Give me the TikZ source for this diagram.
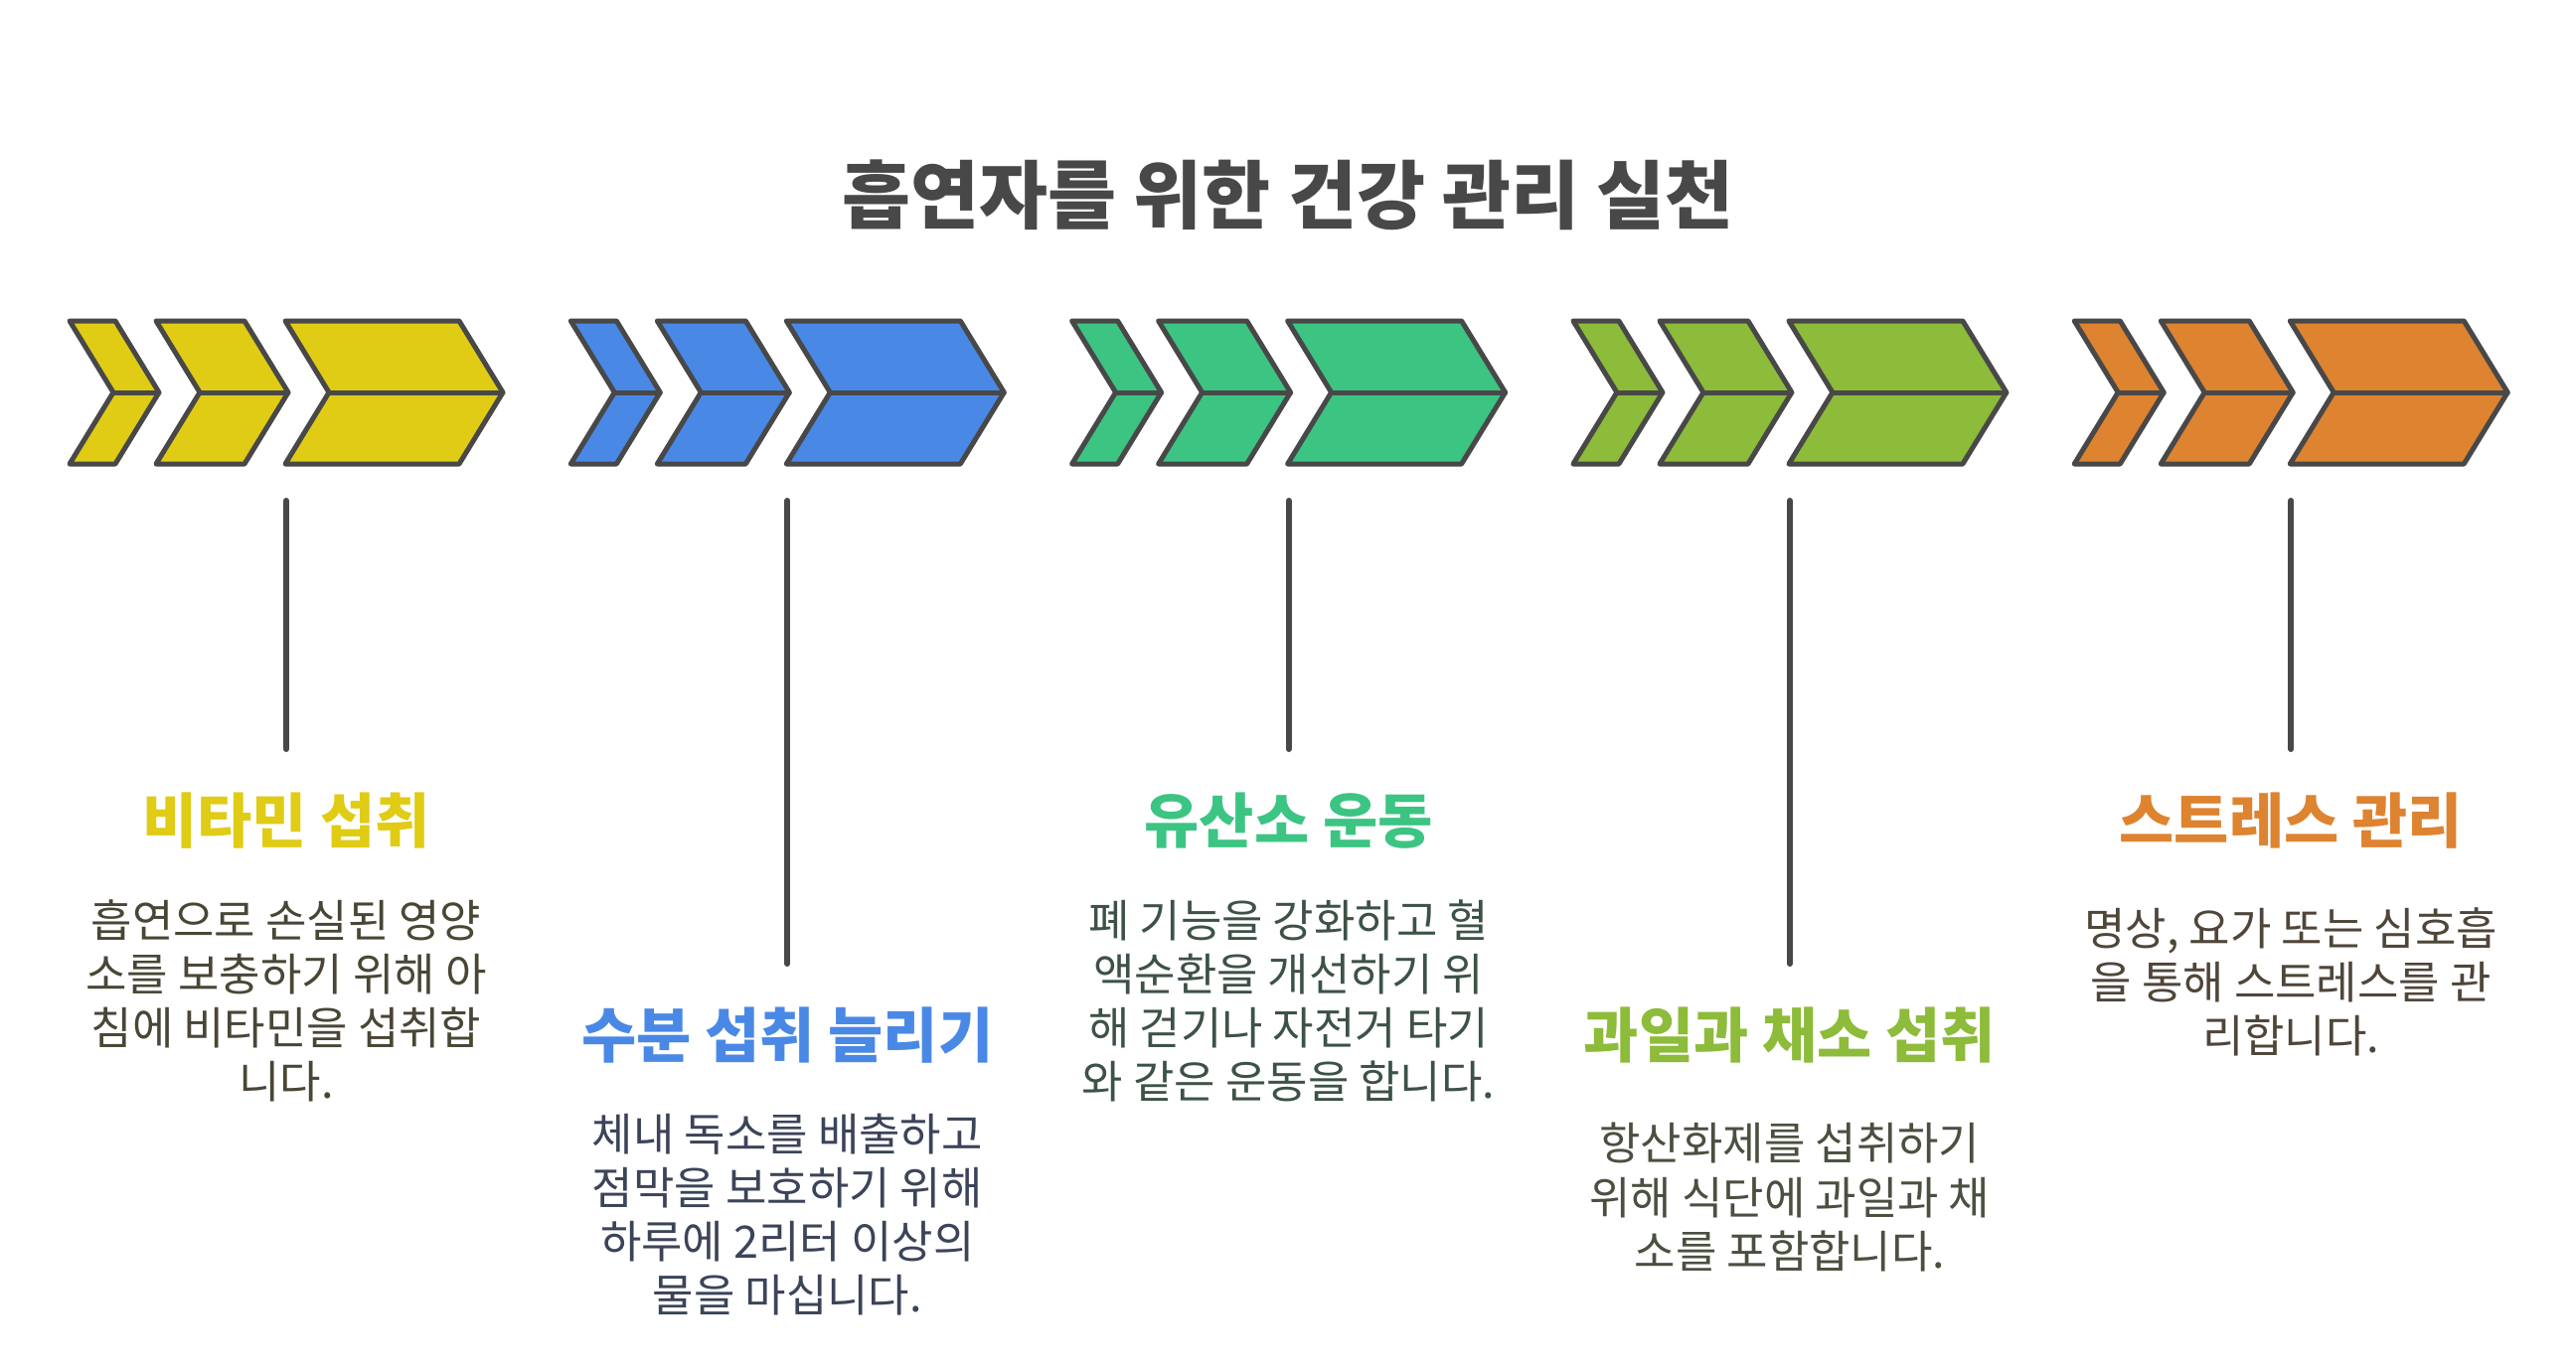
\documentclass[tikz,border=0pt]{standalone}
\usepackage{fontspec}
\newfontfamily\kr{Noto Sans CJK KR}
\definecolor{cy}{HTML}{E0CB15}
\definecolor{cb}{HTML}{4A88E6}
\definecolor{cg}{HTML}{3CC483}
\definecolor{cl}{HTML}{8DBB3A}
\definecolor{co}{HTML}{DE8330}
\definecolor{outl}{HTML}{484848}
\definecolor{ty}{HTML}{4A4636}
\definecolor{tb}{HTML}{3B4458}
\definecolor{tg}{HTML}{3D5246}
\definecolor{tl}{HTML}{4A5040}
\definecolor{to}{HTML}{4F4539}
\tikzset{
  chevron/.style={draw=outl, line width=5pt, line join=round, line cap=round},
  stem/.style={draw=outl, line width=6pt, line cap=round},
  maintitle/.style={font=\kr\bfseries\fontsize{75}{90}\selectfont, text=outl, inner sep=0pt},
  sectitle/.style={font=\kr\bfseries\fontsize{60}{72}\selectfont, inner sep=0pt},
  desc/.style={font=\kr\fontsize{45}{54}\selectfont, align=center, inner sep=0pt},
}
\begin{document}
\begin{tikzpicture}[x=1pt,y=-1pt]
\useasboundingbox (0,0) rectangle (2592,1378);
\fill[white] (0,0) rectangle (2592,1378);

\node[maintitle] (title) at (1296,196) {흡연자를 위한 건강 관리 실천};

\foreach \k/\c in {0/cy,1/cb,2/cg,3/cl,4/co}{
  \foreach \L/\R in {0/46,87/176,217/392}{
    \pgfmathsetmacro{\xa}{70+504.3*\k+\L}
    \pgfmathsetmacro{\xb}{70+504.3*\k+\R}
    \filldraw[chevron, fill=\c] (\xa,323) -- (\xb,323) -- (\xb+44,395) -- (\xb,467) -- (\xa,467) -- (\xa+44,395) -- cycle;
    \draw[chevron] (\xa+44,395) -- (\xb+44,395);
  }
}

\coordinate (t0) at (288,504);    \coordinate (b0) at (288,754);
\coordinate (t1) at (792.3,504);  \coordinate (b1) at (792.3,970);
\coordinate (t2) at (1296.6,504); \coordinate (b2) at (1296.6,754);
\coordinate (t3) at (1800.9,504); \coordinate (b3) at (1800.9,970);
\coordinate (t4) at (2305.2,504); \coordinate (b4) at (2305.2,754);
\foreach \k in {0,...,4}{ \draw[stem] (t\k) -- (b\k); }

\node[sectitle, text=cy] (h0) at (288,826) {비타민 섭취};
\node[desc, text=ty] (d0) at (288,1007) {흡연으로 손실된 영양\\소를 보충하기 위해 아\\침에 비타민을 섭취합\\니다.};

\node[sectitle, text=cb] (h1) at (792.3,1042) {수분 섭취 늘리기};
\node[desc, text=tb] (d1) at (792.3,1223) {체내 독소를 배출하고\\점막을 보호하기 위해\\하루에 2리터 이상의\\물을 마십니다.};

\node[sectitle, text=cg] (h2) at (1296.6,826) {유산소 운동};
\node[desc, text=tg] (d2) at (1296.6,1007) {폐 기능을 강화하고 혈\\액순환을 개선하기 위\\해 걷기나 자전거 타기\\와 같은 운동을 합니다.};

\node[sectitle, text=cl] (h3) at (1800.9,1042) {과일과 채소 섭취};
\node[desc, text=tl] (d3) at (1800.9,1205) {항산화제를 섭취하기\\위해 식단에 과일과 채\\소를 포함합니다.};

\node[sectitle, text=co] (h4) at (2305.2,826) {스트레스 관리};
\node[desc, text=to] (d4) at (2305.2,988) {명상, 요가 또는 심호흡\\을 통해 스트레스를 관\\리합니다.};
\end{tikzpicture}
\end{document}
